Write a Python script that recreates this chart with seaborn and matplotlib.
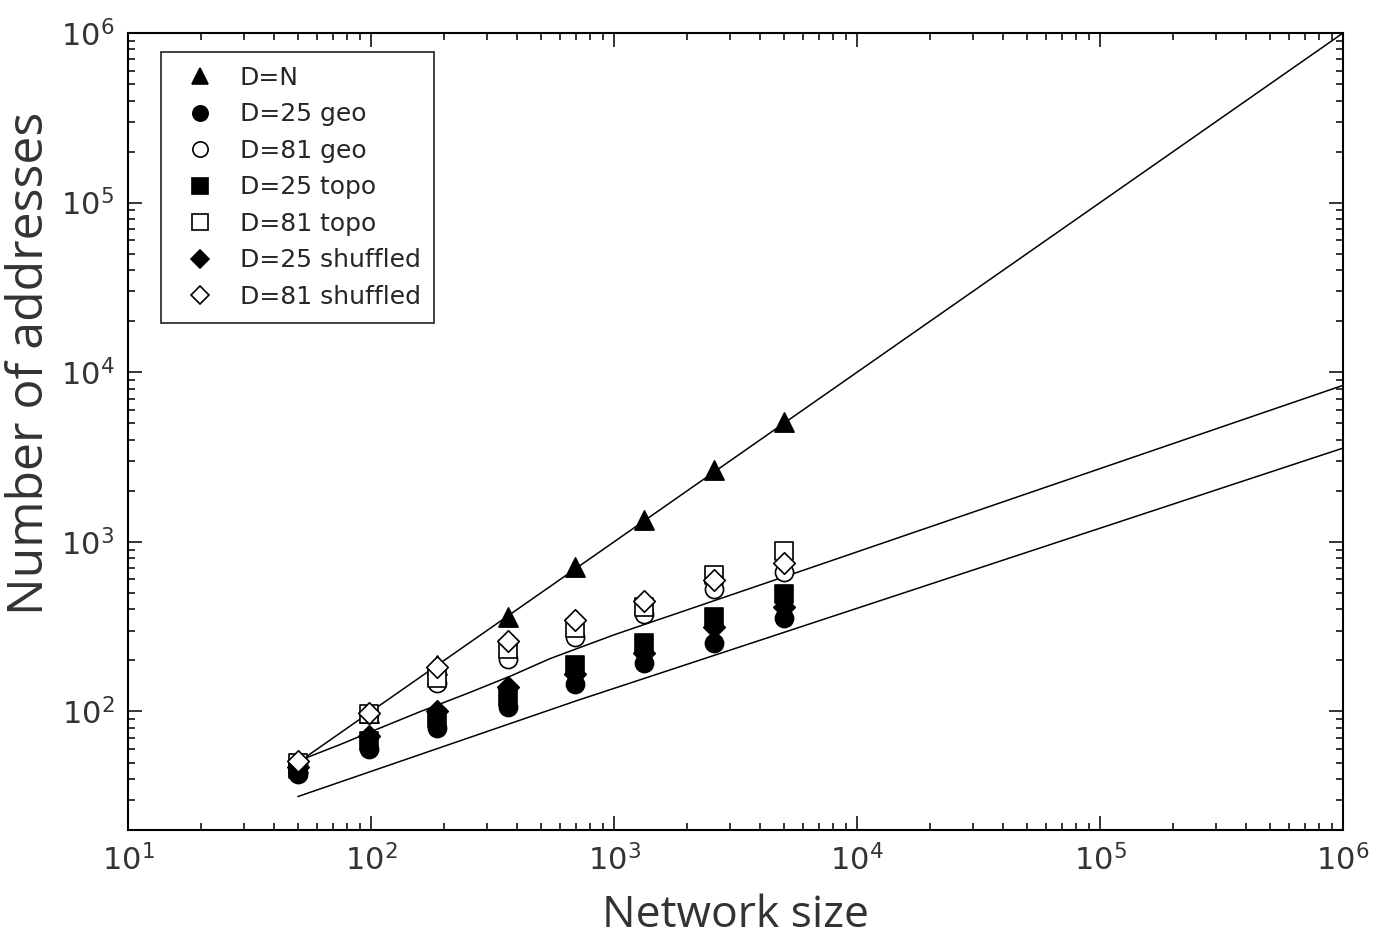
import numpy as np
import pandas as pd
import matplotlib
matplotlib.use("Agg")
import matplotlib.pyplot as plt
import matplotlib.ticker as ticker
from matplotlib.lines import Line2D
import seaborn as sns

# network sizes of the simulated points
network_size = [50, 98, 187, 366, 690, 1330, 2580, 5000]

# number of addresses per series
d_n = [50, 98, 187, 359, 706, 1340, 2640, 5070]
d25_geo = [43, 60, 80, 106, 146, 192, 255, 354]
d81_geo = [49, 96, 148, 205, 273, 378, 524, 661]
d25_topo = [46, 67, 92, 121, 187, 252, 359, 490]
d81_topo = [50, 97, 158, 235, 309, 411, 634, 881]
d25_shuf = [47, 72, 101, 139, 167, 220, 313, 411]
d81_shuf = [51, 98, 182, 262, 344, 451, 594, 755]

# fitted curves
fit_n_x = [50, 1e6]
fit_n_y = [50, 1e6]
fit_81_x = [50, 75, 100, 160, 250, 380, 546, 1000, 7050, 1e6]
fit_81_y = [51, 64, 76, 100, 128, 163, 205, 283, 735, 8370]
fit_25_x = [50, 705, 7050, 1e6]
fit_25_y = [31.5, 116, 344, 3570]

series = [
    ("D=N", d_n, "^", "black"),
    ("D=25 geo", d25_geo, "o", "black"),
    ("D=81 geo", d81_geo, "o", "white"),
    ("D=25 topo", d25_topo, "s", "black"),
    ("D=81 topo", d81_topo, "s", "white"),
    ("D=25 shuffled", d25_shuf, "D", "black"),
    ("D=81 shuffled", d81_shuf, "D", "white"),
]

sns.set_style("ticks")
plt.rcParams["font.family"] = ["DejaVu Sans"]

fig = plt.figure(figsize=(13.81, 9.46), dpi=100)
ax = fig.add_axes([0.0927, 0.1226, 0.8798, 0.8425])

# fit lines
for fx, fy in [(fit_n_x, fit_n_y), (fit_81_x, fit_81_y), (fit_25_x, fit_25_y)]:
    sns.lineplot(x=fx, y=fy, ax=ax, color="black", linewidth=1.1, sort=False)

sizes = {"^": 190, "o": 170, "s": 150, "D": 120}
handles = []
for label, vals, mk, face in series:
    df = pd.DataFrame({"N": network_size, "addr": vals})
    sns.scatterplot(data=df, x="N", y="addr", ax=ax, marker=mk, s=sizes[mk],
                    facecolor=face, edgecolor="black", linewidth=1.2, zorder=3)
    ms = 11 if mk != "D" else 9
    handles.append(Line2D([], [], linestyle="none", marker=mk, markersize=ms,
                          markerfacecolor=face, markeredgecolor="black",
                          markeredgewidth=1.2, label=label))

ax.set_xscale("log")
ax.set_yscale("log")
ax.set_xlim(10, 1e6)
ax.set_ylim(20, 1e6)

ax.xaxis.set_major_locator(ticker.LogLocator(base=10, numticks=10))
ax.yaxis.set_major_locator(ticker.LogLocator(base=10, numticks=10))
ax.xaxis.set_minor_locator(ticker.LogLocator(base=10, subs=np.arange(2, 10), numticks=20))
ax.yaxis.set_minor_locator(ticker.LogLocator(base=10, subs=np.arange(2, 10), numticks=20))
ax.xaxis.set_minor_formatter(ticker.NullFormatter())
ax.yaxis.set_minor_formatter(ticker.NullFormatter())

ax.tick_params(which="both", direction="in", top=True, right=True, width=1.3)
ax.tick_params(which="major", length=10, labelsize=22, pad=10, labelcolor="#333333")
ax.tick_params(which="minor", length=5)
for sp in ax.spines.values():
    sp.set_linewidth(1.5)
    sp.set_color("black")

ax.set_xlabel("Network size", fontsize=32, family="Open Sans", color="#333333", labelpad=12)
ax.set_ylabel("Number of addresses", fontsize=36, family="Open Sans", color="#333333")
ax.yaxis.set_label_coords(-0.06, 0.585)

leg = ax.legend(handles=handles, loc="upper left", bbox_to_anchor=(0.027, 0.976),
                fontsize=18, frameon=True, fancybox=False, edgecolor="black",
                borderpad=0.55, labelspacing=0.5, handletextpad=0.6,
                handlelength=2.0, borderaxespad=0)
leg.get_frame().set_linewidth(1.3)

fig.savefig("out.png", dpi=100, facecolor="white")
